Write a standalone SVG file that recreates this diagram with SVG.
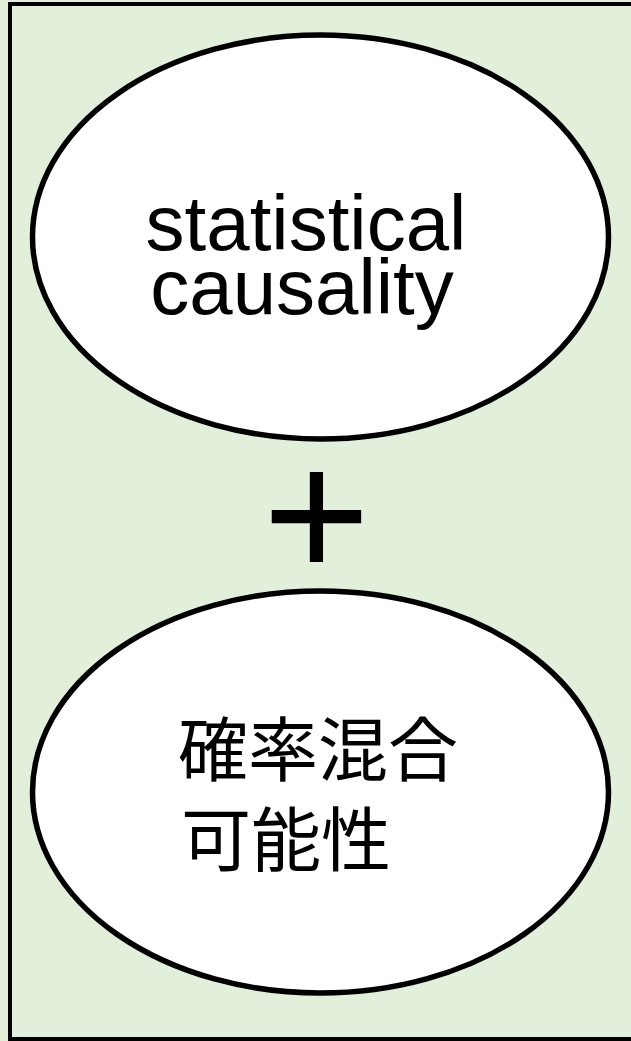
<svg xmlns="http://www.w3.org/2000/svg" width="631" height="1041" viewBox="0 0 631 1041">
<style>
.bg{fill:#E2EFDA}
.frame{fill:#E2EFDA;stroke:#000;stroke-width:4}
.node{fill:#fff;stroke:#000;stroke-width:5.5}
.lat{font-family:"Liberation Sans",Arial,sans-serif;fill:#000}
.cjk{font-family:"Liberation Sans","Noto Sans CJK JP",sans-serif;fill:#000}
</style>
<rect class="bg" x="0" y="0" width="631" height="1041"/>
<rect class="frame" x="10" y="4" width="640" height="1035"/>
<g id="node-statistical-causality">
<ellipse class="node" cx="320.5" cy="237" rx="288" ry="202"/>
<text class="lat" font-size="78" text-anchor="middle"><tspan x="306" y="250">statistical</tspan><tspan x="302" y="314">causality</tspan></text>
</g>
<g id="plus">
<text class="lat" font-size="184" x="316.5" y="578" text-anchor="middle">+</text>
</g>
<g id="node-kakuritsu">
<ellipse class="node" cx="320.5" cy="792" rx="288" ry="201"/>
<text class="cjk" font-size="70"><tspan x="178" y="776">確率混合</tspan><tspan x="181" y="866">可能性</tspan></text>
</g>
<g id="connectors"/>
</svg>
